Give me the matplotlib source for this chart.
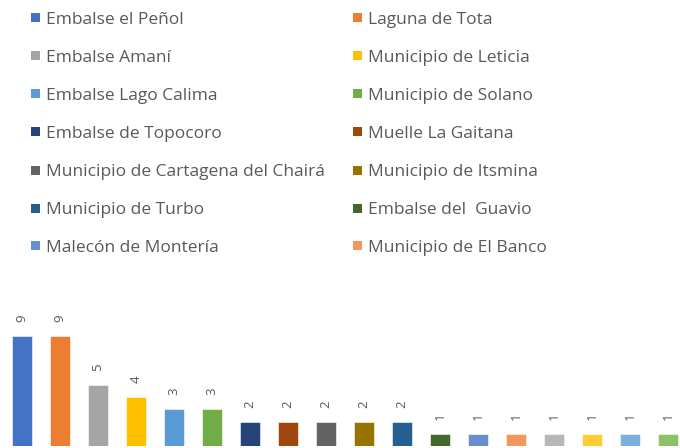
import matplotlib
matplotlib.use("Agg")
import matplotlib.pyplot as plt
from matplotlib.patches import Rectangle

# legend entries visible in the picture (first 14 of the 18 bars)
places = ["Embalse el Peñol", "Laguna de Tota", "Embalse Amaní", "Municipio de Leticia",
          "Embalse Lago Calima", "Municipio de Solano", "Embalse de Topocoro", "Muelle La Gaitana",
          "Municipio de Cartagena del Chairá", "Municipio de Itsmina", "Municipio de Turbo",
          "Embalse del  Guavio", "Malecón de Montería", "Municipio de El Banco"]
counts = [9, 9, 5, 4, 3, 3, 2, 2, 2, 2, 2, 1, 1, 1, 1, 1, 1, 1]
colors = ["#4472C4", "#ED7D31", "#A5A5A5", "#FFC000", "#5B9BD5", "#70AD47",
          "#264478", "#9E480E", "#636363", "#997300", "#255E91", "#43682B",
          "#698ED0", "#F1975A", "#B7B7B7", "#FFCD33", "#7CAFDD", "#8CC168"]

W, H = 680, 448
txt_color = "#595959"
plt.rcParams["font.family"] = ["Open Sans", "DejaVu Sans"]

fig = plt.figure(figsize=(W / 100, H / 100), dpi=100)

# bars
ax = fig.add_axes([0, 2 / H, 1, 134 / H])
x = list(range(len(counts)))
ax.bar(x, counts, width=0.53, color=colors, edgecolor="white", linewidth=0.4)
ax.set_xlim(-22 / 38, (W - 22) / 38)
ax.set_ylim(0, 134 / 12.25)
for xi, c in zip(x, counts):
    ax.annotate(str(c), (xi, c), xytext=(0, 10), textcoords="offset points",
                rotation=90, ha="center", va="bottom", fontsize=9.5, color=txt_color)
ax.axis("off")

# legend, two columns filled row by row
for i, name in enumerate(places):
    row, col = divmod(i, 2)
    yc = 18 + 38 * row
    mx = 31 if col == 0 else 353
    tx = 46 if col == 0 else 368
    fig.patches.append(Rectangle((mx / W, 1 - (yc + 4.5) / H), 9 / W, 9 / H,
                                 transform=fig.transFigure, facecolor=colors[i],
                                 edgecolor="none"))
    fig.text(tx / W, 1 - yc / H, name, ha="left", va="center_baseline",
             fontsize=12.5, color=txt_color)

fig.savefig("out.png", dpi=100)
